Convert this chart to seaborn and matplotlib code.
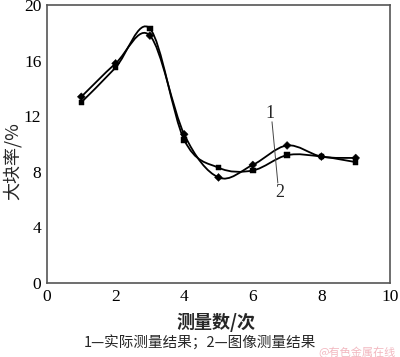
import numpy as np
import pandas as pd
import seaborn as sns
import matplotlib
matplotlib.use("Agg")
import matplotlib.pyplot as plt
from matplotlib.path import Path
from matplotlib.patches import PathPatch

x_vals = [1, 2, 3, 4, 5, 6, 7, 8, 9]
actual = [13.4, 15.8, 17.8, 10.7, 7.6, 8.5, 9.9, 9.1, 9.0]
image = [13.0, 15.5, 18.3, 10.3, 8.3, 8.1, 9.2, 9.1, 8.7]
x_ticks = [0, 2, 4, 6, 8, 10]
y_ticks = [0, 4, 8, 12, 16, 20]

sns.set_theme(style="white")
plt.rcParams['font.family'] = ['Liberation Serif', 'Noto Sans CJK SC', 'DejaVu Sans']

df = pd.DataFrame({
    "x": x_vals * 2,
    "y": actual + image,
    "s": ["1"] * len(x_vals) + ["2"] * len(x_vals),
})

fig = plt.figure(figsize=(4.0, 3.57), dpi=100)
ax = fig.add_axes([0.1175, 0.207, 0.8575, 0.779])

def smooth_path(xs, ys):
    xs = np.asarray(xs, float)
    ys = np.asarray(ys, float)
    n = len(xs)
    verts = [(xs[0], ys[0])]
    codes = [Path.MOVETO]
    for i in range(n - 1):
        p0 = np.array([xs[max(i - 1, 0)], ys[max(i - 1, 0)]])
        p1 = np.array([xs[i], ys[i]])
        p2 = np.array([xs[i + 1], ys[i + 1]])
        p3 = np.array([xs[min(i + 2, n - 1)], ys[min(i + 2, n - 1)]])
        c1 = p1 + (p2 - p0) / 6.0
        c2 = p2 - (p3 - p1) / 6.0
        verts += [tuple(c1), tuple(c2), tuple(p2)]
        codes += [Path.CURVE4] * 3
    return Path(verts, codes)

for ys in (actual, image):
    ax.add_patch(PathPatch(smooth_path(x_vals, ys), fill=False, lw=1.3,
                           edgecolor="black", transform=ax.transData, zorder=2))

sns.scatterplot(data=df, x="x", y="y", style="s", markers={"1": "D", "2": "s"},
                color="black", s=16, edgecolor="black", legend=False, ax=ax, zorder=3)

ax.set_xlim(0, 10)
ax.set_ylim(0, 20)
ax.set_xticks(x_ticks)
ax.set_yticks(y_ticks)
ax.tick_params(direction="in", length=3, width=0.8, colors="#333333",
               labelsize=12.5, labelcolor="black", pad=4)
for sp in ax.spines.values():
    sp.set_color("#555555")
    sp.set_linewidth(1.2)

ax.set_xlabel("")
ax.set_ylabel("")
fig.text(0.03, 0.55, "大块率/%", rotation=90, ha="center", va="center",
         fontsize=13, family=['Noto Sans CJK SC', 'DejaVu Sans'])
fig.text(0.54, 0.098, "测量数/次", ha="center", va="center", fontsize=13,
         fontweight="bold", family=['Noto Sans CJK SC', 'DejaVu Sans'])
fig.text(0.5, 0.04, "1—实际测量结果；2—图像测量结果", ha="center", va="center",
         fontsize=10.5, family=['Noto Sans CJK SC', 'DejaVu Sans'])
fig.text(0.99, 0.012, "@有色金属在线", ha="right", va="center", fontsize=8,
         color="#f2b8c0", family=['Noto Sans CJK SC', 'DejaVu Sans'])

ax.plot([6.56, 6.73], [11.6, 7.2], color="#444444", lw=0.7)
ax.text(6.5, 12.2, "1", ha="center", va="center", fontsize=13)
ax.text(6.8, 6.5, "2", ha="center", va="center", fontsize=13)

fig.savefig("out.png", dpi=100)
